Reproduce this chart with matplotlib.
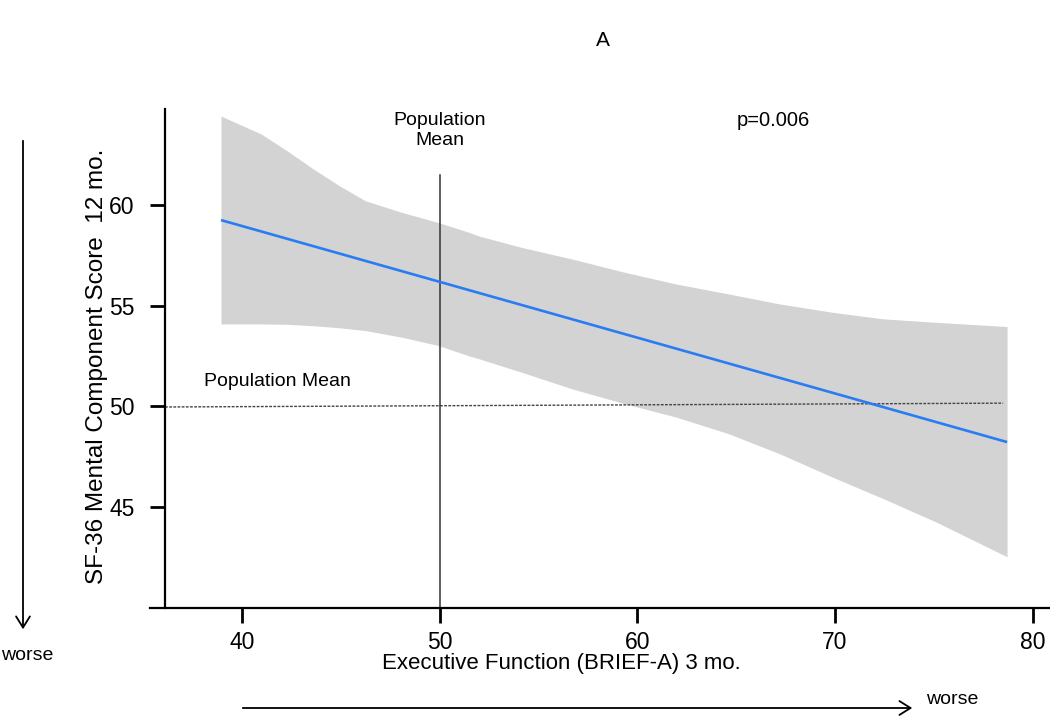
import matplotlib
matplotlib.use("Agg")
import matplotlib.pyplot as plt

plt.rcParams['font.family'] = ['Liberation Sans', 'DejaVu Sans']

# ---- data ----
band_x     = [38.95, 39.7, 41.0, 42.3, 43.63, 44.94, 46.25, 48.1, 49.94, 51.5, 52.0, 54.13, 56.7,
              59.37, 61.96, 64.6, 67.2, 69.85, 72.45, 75.1, 78.7]
band_upper = [64.4, 64.07, 63.5, 62.67, 61.77, 60.94, 60.2, 59.62, 59.12, 58.63, 58.45, 57.89, 57.31,
              56.65, 56.07, 55.58, 55.08, 54.67, 54.34, 54.17, 53.96]
band_lower = [54.09, 54.09, 54.09, 54.07, 54.0, 53.9, 53.76, 53.43, 53.02, 52.5, 52.36, 51.7, 50.87,
              50.13, 49.47, 48.65, 47.65, 46.5, 45.42, 44.27, 42.54]
fit_x = [38.95, 78.7]
fit_y = [59.24, 48.23]
popmean_h_x = [36.12, 78.5]
popmean_h_y = [49.97, 50.16]
popmean_v_x = 50
popmean_v_top = 61.5
xticks = [40, 50, 60, 70, 80]
yticks = [45, 50, 55, 60]
p_text = "p=0.006"

W, H = 1050, 717
fig = plt.figure(figsize=(W / 100, H / 100), dpi=100)

def fx(px):
    return px / W

def fy(py):
    return 1 - py / H

ax_w_px, ax_h_px = 1050 - 150, 608 - 109
ax = fig.add_axes([fx(150), fy(608), ax_w_px / W, ax_h_px / H])
xlim = (35.36, 80.87)
ax.set_xlim(*xlim)
ax.set_ylim(40, 64.75)
spine_x = 36.12

ax.fill_between(band_x, band_lower, band_upper, color='#D3D3D3', linewidth=0, zorder=1)
ax.plot(popmean_h_x, popmean_h_y, color='#444444', lw=1.0, linestyle=(0, (2, 1)), zorder=2)
ax.plot([popmean_v_x, popmean_v_x], [40, popmean_v_top], color='#333333', lw=1.1, zorder=2)
ax.plot(fit_x, fit_y, color='#2A7CF2', lw=1.9, zorder=3, solid_capstyle='butt')

for s in ['top', 'right']:
    ax.spines[s].set_visible(False)
ax.spines['left'].set_position(('data', spine_x))
ax.spines['left'].set_linewidth(1.6)
ax.spines['bottom'].set_linewidth(1.6)

ax.set_xticks(xticks)
ax.set_yticks(yticks)
ax.tick_params(axis='both', which='major', direction='out', length=10.8, width=2.0,
               color='black', labelsize=16.5, left=True, bottom=True)
ax.tick_params(axis='y', pad=11)
ax.tick_params(axis='x', pad=6)

ax.text(50, 64.6, "Population\nMean", ha='center', va='top', fontsize=14, linespacing=1.2, clip_on=False)
ax.text(66.9, 64.16, p_text, ha='center', va='center', fontsize=14.5, clip_on=False)
ax.text(38.1, 51.24, "Population Mean", ha='left', va='center', fontsize=14)

fig.text(fx(97), fy(366), "SF-36 Mental Component Score  12 mo.", rotation=90,
         ha='center', va='center', fontsize=17.5)
fig.text(fx(561), fy(664), "Executive Function (BRIEF-A) 3 mo.", ha='center', va='center', fontsize=16)
fig.text(fx(603), fy(40), "A", ha='center', va='center', fontsize=15)
fig.text(fx(27), fy(656), "worse", ha='center', va='center', fontsize=14)
fig.text(fx(952), fy(699), "worse", ha='center', va='center', fontsize=14)

fig.add_artist(matplotlib.patches.FancyArrowPatch(
    (fx(23), fy(138)), (fx(23), fy(632)), transform=fig.transFigure,
    arrowstyle='->,head_length=8,head_width=5', color='black', lw=1.3, mutation_scale=1))
fig.add_artist(matplotlib.patches.FancyArrowPatch(
    (fx(240), fy(708)), (fx(915), fy(708)), transform=fig.transFigure,
    arrowstyle='->,head_length=8,head_width=5', color='black', lw=1.3, mutation_scale=1))

fig.savefig("out.png", dpi=100)
